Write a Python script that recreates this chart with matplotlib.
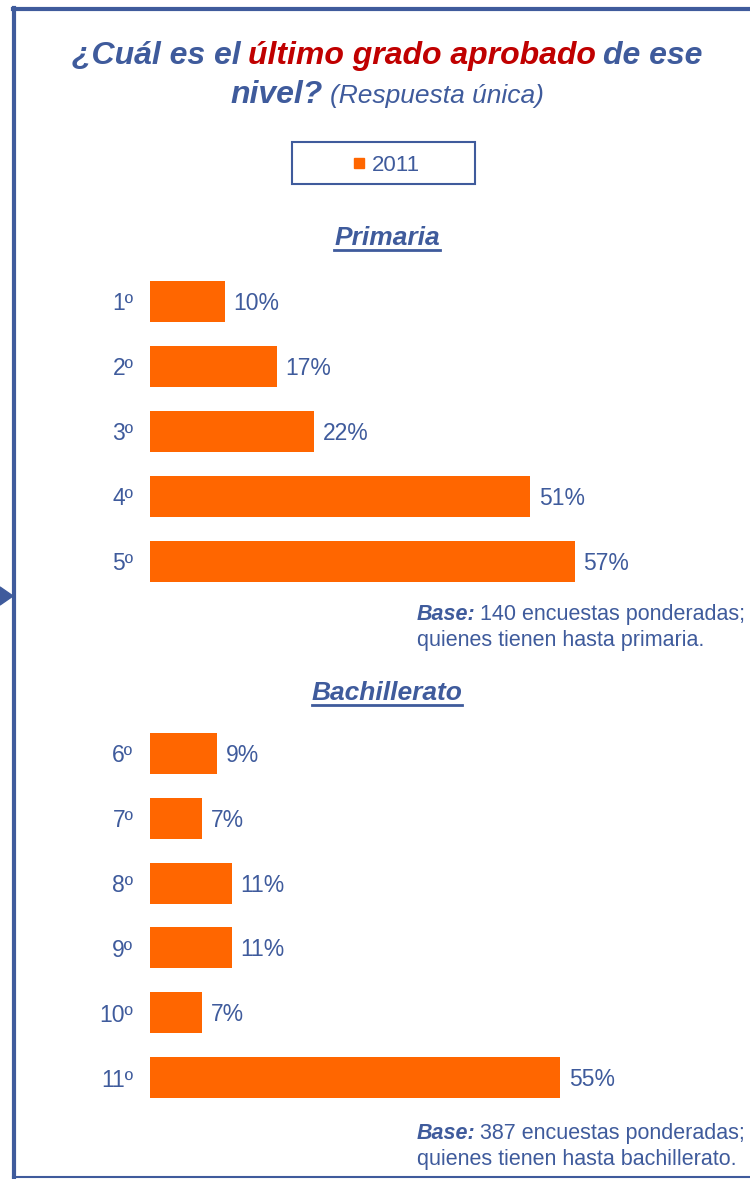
import matplotlib.pyplot as plt
from matplotlib.patches import Rectangle, Polygon
from matplotlib.lines import Line2D

plt.rcParams['font.family'] = ['Liberation Sans', 'DejaVu Sans']

BLUE = '#3F5B9C'
RED = '#C00000'
ORANGE = '#FF6600'

primaria_grados = ['1º', '2º', '3º', '4º', '5º']
primaria_pct = [10, 17, 22, 51, 57]
bach_grados = ['6º', '7º', '8º', '9º', '10º', '11º']
bach_pct = [9, 7, 11, 11, 7, 55]

W, H = 750, 1179
fig = plt.figure(figsize=(W / 100, H / 100), dpi=100)
renderer = fig.canvas.get_renderer()


def fx(x):
    return x / W


def fy(y):
    return 1 - y / H


def width_of(t):
    return t.get_window_extent(renderer).width


def rich_line(pieces, cx, base_y, gap_size=20):
    # pieces: (text, color, weight, style, size)
    txts = []
    for s, c, wgt, sty, sz in pieces:
        t = fig.text(0, fy(base_y), s, color=c, fontweight=wgt, fontstyle=sty,
                     fontsize=sz, va='baseline', ha='left')
        txts.append(t)
    probe = fig.text(0, 0, 'a a', fontsize=gap_size)
    probe2 = fig.text(0, 0, 'aa', fontsize=gap_size)
    gap = width_of(probe) - width_of(probe2)
    probe.remove()
    probe2.remove()
    widths = [width_of(t) for t in txts]
    total = sum(widths) + gap * (len(txts) - 1)
    x = cx - total / 2
    for t, w in zip(txts, widths):
        t.set_x(fx(x))
        x += w + gap
    return txts


# frame
fig.add_artist(Line2D([fx(14), fx(14)], [fy(8), fy(1179)], color=BLUE, lw=3))
fig.add_artist(Line2D([fx(13), fx(750)], [fy(9), fy(9)], color=BLUE, lw=3))
fig.add_artist(Line2D([fx(13), fx(750)], [fy(1177), fy(1177)], color=BLUE, lw=1.5))
fig.add_artist(Polygon([[fx(0), fy(587)], [fx(13), fy(596)], [fx(0), fy(605)]],
                       closed=True, color=BLUE, transform=fig.transFigure))

# title
rich_line([('¿Cuál es el', BLUE, 'bold', 'italic', 23),
           ('último grado aprobado', RED, 'bold', 'italic', 23),
           ('de ese', BLUE, 'bold', 'italic', 23)], 387, 64, 19)
rich_line([('nivel?', BLUE, 'bold', 'italic', 23),
           ('(Respuesta única)', BLUE, 'normal', 'italic', 19)], 387, 103, 17)

# legend box
fig.add_artist(Rectangle((fx(292), fy(184)), fx(183), 42 / H, fill=False,
                         edgecolor=BLUE, lw=1.5, transform=fig.transFigure))
fig.add_artist(Rectangle((fx(354), fy(168)), fx(10), 10 / H, color=ORANGE,
                         transform=fig.transFigure))
fig.text(fx(372), fy(171), '2011', color=BLUE, fontsize=16, va='baseline', ha='left')


def subtitle(s, cy):
    t = fig.text(fx(387), fy(cy), s, color=BLUE, fontsize=19, fontweight='bold',
                 fontstyle='italic', ha='center', va='baseline')
    bb = t.get_window_extent(renderer)
    fig.add_artist(Line2D([bb.x0 / W, bb.x1 / W], [fy(cy + 5)] * 2, color=BLUE, lw=2))


subtitle('Primaria', 245)
subtitle('Bachillerato', 700)

SCALE = 7.46  # px per %


def bars(labels, vals, top, bottom):
    ax = fig.add_axes([fx(150), fy(bottom), fx(600), (bottom - top) / H])
    n = len(labels)
    ax.barh(range(n), vals, height=0.63, color=ORANGE)
    ax.set_ylim(n - 0.5, -0.5)
    ax.set_xlim(0, 600 / SCALE)
    ax.set_yticks(range(n))
    ax.set_yticklabels(labels, color=BLUE, fontsize=16.5)
    ax.tick_params(axis='y', length=0, pad=12)
    ax.set_xticks([])
    for sp in ax.spines.values():
        sp.set_visible(False)
    ax.patch.set_alpha(0)
    for i, v in enumerate(vals):
        ax.annotate(f'{v}%', (v, i), xytext=(6, -1.5), textcoords='offset points',
                    va='center', ha='left', color=BLUE, fontsize=16.5)
    return ax


bars(primaria_grados, primaria_pct, 269, 594)
bars(bach_grados, bach_pct, 721, 1110)


def base_note(n, quien, y1):
    rich = rich_line([('Base:', BLUE, 'bold', 'italic', 15.5),
                      (f'{n} encuestas ponderadas;', BLUE, 'normal', 'normal', 15.5)],
                     0, y1, 12)
    x0 = rich[0].get_position()[0]
    shift = fx(417) - x0
    for t in rich:
        t.set_x(t.get_position()[0] + shift)
    fig.text(fx(417), fy(y1 + 26), f'quienes tienen hasta {quien}.', color=BLUE,
             fontsize=15.5, va='baseline', ha='left')


base_note(140, 'primaria', 620)
base_note(387, 'bachillerato', 1139)

fig.savefig('out.png', dpi=100)
